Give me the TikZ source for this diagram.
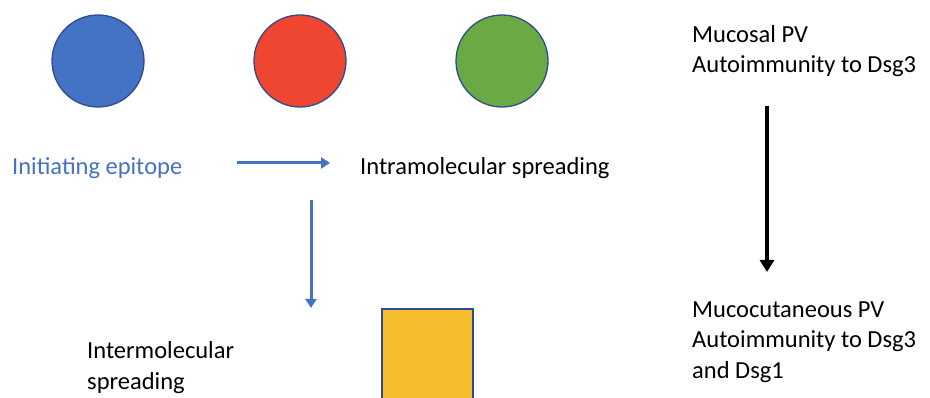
\documentclass[tikz,border=0pt]{standalone}
\usepackage{fontspec}
\setmainfont{Carlito}
\usetikzlibrary{arrows.meta}
\definecolor{cblue}{HTML}{4472C4}
\definecolor{cred}{HTML}{EE4630}
\definecolor{cgreen}{HTML}{6AAA44}
\definecolor{cyellow}{HTML}{F6BE2F}
\definecolor{cedge}{HTML}{2F4C8F}
\tikzset{
  ball/.style={circle, draw=cedge, line width=1.3pt, minimum size=92pt, inner sep=0pt},
  lbl/.style={font=\fontsize{24.5}{30}\selectfont, inner sep=0pt, anchor=base west},
  barrow/.style={draw=cblue, line width=3pt, -{Triangle[length=9pt,width=11pt]}},
  karrow/.style={draw=black, line width=3.5pt, -{Triangle[length=12pt,width=14pt]}}
}
\begin{document}
\begin{tikzpicture}[x=1pt,y=-1pt]
\useasboundingbox (0,0) rectangle (930,398);
\node[ball, fill=cblue] (b1) at (98,61) {};
\node[ball, fill=cred] (b2) at (300,61) {};
\node[ball, fill=cgreen] (b3) at (502,61) {};
\node[lbl, text=cblue] (init) at (12,175) {Initiating epitope};
\node[lbl] (intra) at (360,175) {Intramolecular spreading};
\node[lbl] (inter1) at (87,359) {Intermolecular};
\node[lbl] (inter2) at (87,389) {spreading};
\draw[fill=cyellow, draw=cedge, line width=2pt] (382,309) rectangle (473,410);
\coordinate (h1) at (237,163);
\coordinate (h2) at (330,163);
\draw[barrow] (h1) -- (h2);
\coordinate (v1) at (311,200);
\coordinate (v2) at (311,308);
\draw[barrow] (v1) -- (v2);
\node[lbl] (muc1) at (692,43) {Mucosal PV};
\node[lbl] (muc2) at (692,73) {Autoimmunity to Dsg3};
\node[lbl] (mcc1) at (692,318) {Mucocutaneous PV};
\node[lbl] (mcc2) at (692,348) {Autoimmunity to Dsg3};
\node[lbl] (mcc3) at (692,378) {and Dsg1};
\coordinate (k1) at (767,106);
\coordinate (k2) at (767,272);
\draw[karrow] (k1) -- (k2);
\end{tikzpicture}
\end{document}
